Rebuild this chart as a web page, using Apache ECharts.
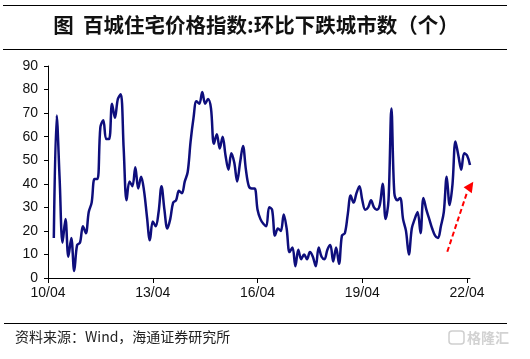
<!DOCTYPE html>
<html>
<head>
<meta charset="utf-8">
<script src="https://cdn.jsdelivr.net/npm/echarts@6/dist/echarts.min.js"></script>
<style>
html,body{margin:0;padding:0;background:#fff;}
#chart{width:530px;height:359px;}
</style>
</head>
<body>
<div id="chart"></div>
<script>
// Monthly categories 2010/04 .. 2022/05
const categories = (function(){
  const out = [];
  for (let y = 2010; y <= 2022; y++) {
    for (let m = 1; m <= 12; m++) {
      if (y === 2010 && m < 4) continue;
      if (y === 2022 && m > 5) continue;
      out.push(String(y).slice(2) + '/' + (m < 10 ? '0' + m : m));
    }
  }
  return out;
})();

const tickLabels = ['10/04', '13/04', '16/04', '19/04', '22/04'];

// 百城住宅价格指数: 环比下跌城市数（个）
const declineCities = [
  null, null, 17, 69, 42, 15, 25, 9, 17, 3,
  14, 15, 22, 19, 28, 32, 42, 42, 64, 67,
  59, 59, 74, 68, 76, 78, 55, 33, 41, 39,
  47, 38, 43, 37, 26, 16, 24, 22, 28, 39,
  29, 21, 25, 32, 33, 37, 36, 41, 45, 58,
  68, 75, 74, 79, 74, 76, 72, 57, 61, 55,
  60, 52, 46, 53, 49, 41, 49, 56, 46, 39,
  38, 38, 29, 25, 23, 22, 30, 29, 18, 21,
  20, 27, 21, 11, 13, 5, 12, 8, 10, 8,
  11, 9, 5, 13, 9, 8, 12, 14, 7, 13,
  6, 18, 19, 27, 35, 32, 36, 39, 33, 29,
  30, 33, 30, 29, 31, 40, 25, 33, 72, 36,
  33, 34, 25, 20, 10, 21, 25, 28, 19, 34,
  29, 25, 21, 18, 17, 22, 28, 43, 31, 40,
  58, 52, 46, 53, 52, 48
];

const yMin = 0, yMax = 90, yStep = 10;

const titleText = '图  百城住宅价格指数:环比下跌城市数（个）';
const sourceText = '资料来源：Wind，海通证券研究所';
const watermarkText = '格隆汇';

const chart = echarts.init(document.getElementById('chart'), null, {renderer: 'canvas'});

const showTick = function (idx) { return tickLabels.indexOf(categories[idx]) !== -1; };

chart.setOption({
  animation: false,
  backgroundColor: '#fff',
  grid: {left: 48, right: 60, top: 66, bottom: 81, containLabel: false},
  xAxis: {
    type: 'category',
    data: categories,
    boundaryGap: false,
    axisLine: {lineStyle: {color: '#000', width: 1}},
    axisTick: {show: true, interval: showTick, length: 5, inside: false, lineStyle: {color: '#000'}},
    axisLabel: {
      interval: showTick,
      color: '#111',
      fontFamily: 'Liberation Sans, Arial, sans-serif',
      fontSize: 14,
      margin: 8
    },
    splitLine: {show: false}
  },
  yAxis: {
    type: 'value',
    min: yMin, max: yMax, interval: yStep,
    axisLine: {show: true, lineStyle: {color: '#000', width: 1}},
    axisTick: {show: true, length: 4, lineStyle: {color: '#000'}},
    axisLabel: {
      color: '#111',
      fontFamily: 'Liberation Sans, Arial, sans-serif',
      fontSize: 14,
      margin: 10
    },
    splitLine: {show: false}
  },
  series: [{
    type: 'line',
    data: declineCities,
    smooth: 0.35,
    showSymbol: false,
    connectNulls: false,
    lineStyle: {color: '#0e0e7c', width: 2.5}
  }],
  graphic: [
    {type: 'line', shape: {x1: 3, y1: 5.5, x2: 507, y2: 5.5}, style: {stroke: '#000', lineWidth: 1}},
    {type: 'line', shape: {x1: 3, y1: 49.5, x2: 507, y2: 49.5}, style: {stroke: '#000', lineWidth: 1}},
    {type: 'line', shape: {x1: 4, y1: 323.5, x2: 507, y2: 323.5}, style: {stroke: '#000', lineWidth: 1}},
    {type: 'text', x: 256, y: 25, style: {
      text: titleText, textAlign: 'center', textVerticalAlign: 'middle',
      font: 'bold 20.5px "Noto Sans CJK SC", sans-serif', fill: '#111'}},
    {type: 'text', x: 15, y: 337, style: {
      text: sourceText, textAlign: 'left', textVerticalAlign: 'middle',
      font: '14px "Noto Sans CJK SC", sans-serif', fill: '#222'}},
    {type: 'rect', shape: {x: 449, y: 331, width: 15, height: 13, r: 3},
      style: {fill: 'none', stroke: '#cfcfcf', lineWidth: 1.5}},
    {type: 'text', x: 467, y: 338, style: {
      text: watermarkText, textAlign: 'left', textVerticalAlign: 'middle',
      font: 'bold 14px "Noto Sans CJK SC", sans-serif', fill: '#d2d2d2'}},
    {type: 'line', shape: {x1: 447.3, y1: 251.7, x2: 467.5, y2: 191},
      style: {stroke: '#ff0000', lineWidth: 2, lineDash: [5, 3]}},
    {type: 'polygon', shape: {points: [[473.3, 181.7], [463.6, 187.2], [471.8, 193.2]]},
      style: {fill: '#ff0000'}}
  ]
});
</script>
</body>
</html>
